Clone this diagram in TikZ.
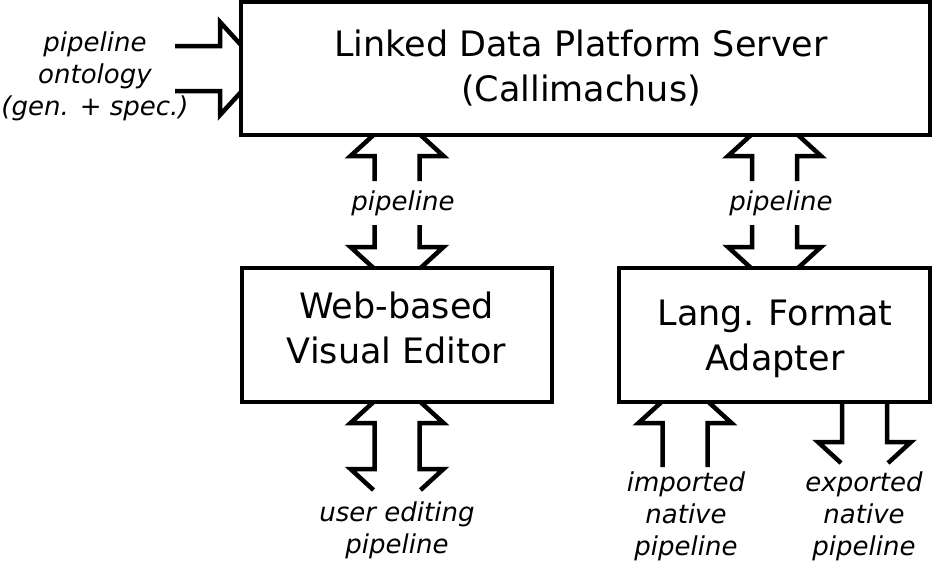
\documentclass[tikz,border=0pt]{standalone}
\usepackage{fontspec}
\usetikzlibrary{calc}
\newfontfamily\boxfont{DejaVu Sans}
\tikzset{
  arr/.style={line width=4.5pt, line join=miter},
  box/.style={draw, line width=4.5pt, outer sep=0pt, inner sep=0pt, fill=white},
  btext/.style={font=\boxfont\fontsize{35pt}{45pt}\selectfont, align=center, inner sep=0pt},
  ltext/.style={font=\boxfont\itshape\fontsize{26pt}{32pt}\selectfont, align=center, inner sep=0pt},
  pics/single/.style={code={
    \draw[arr] (-23.5,0) -- (-46.5,21) -- (-22.5,21) -- (-22.5,#1);
    \draw[arr] (23.5,0) -- (46.5,21) -- (22.5,21) -- (22.5,#1);
  }},
  pics/dbl/.style={code={
    \draw[arr] (-23.5,0) -- (-46.5,21) -- (-22.5,21) -- (-22.5,#1-21) -- (-46.5,#1-21) -- (-23.5,#1);
    \draw[arr] (23.5,0) -- (46.5,21) -- (22.5,21) -- (22.5,#1-21) -- (46.5,#1-21) -- (23.5,#1);
  }}
}
\begin{document}
\begin{tikzpicture}[x=1pt,y=-1pt]
\useasboundingbox (0,0) rectangle (933,563);
% boxes
\node[box, minimum width=689pt, minimum height=133pt] (top) at (585.5,68.5) {};
\node[box, minimum width=310pt, minimum height=134pt] (web) at (397,335) {};
\node[box, minimum width=311pt, minimum height=134pt] (lang) at (774.5,335) {};
% box texts (anchor base = last line)
\node[btext, anchor=base] (toptxt) at (581,101.5) {Linked Data Platform Server\\(Callimachus)};
\node[btext, anchor=base] (webtxt) at (396.5,363) {Web-based\\Visual Editor};
\node[btext, anchor=base] (langtxt) at (775,370) {Lang. Format\\Adapter};
% block arrows
\pic[rotate=-90] (ain) at (top.west) {single=66};
\pic (p1u) at (web.north |- top.south) {single=46};
\pic[yscale=-1] (p1d) at (web.north) {single=43};
\pic (p2u) at (lang.north |- top.south) {single=46};
\pic[yscale=-1] (p2d) at (lang.north) {single=43};
\pic (ue) at (web.south) {dbl=88};
\pic (imp) at ($(lang.south west)+(66,0)$) {single=65};
\pic[yscale=-1] (exp) at ($(lang.south east)+(-65.5,61)$) {single=61};
% labels
\node[ltext, anchor=base] (lont) at (95,115) {pipeline\\ontology\\(gen. + spec.)};
\node[ltext, anchor=base] (lpipe1) at (403,210) {pipeline};
\node[ltext, anchor=base] (lpipe2) at (781,210) {pipeline};
\node[ltext, anchor=base] (luser) at (397,553) {user editing\\pipeline};
\node[ltext, anchor=base] (limp) at (686,555) {imported\\native\\pipeline};
\node[ltext, anchor=base] (lexp) at (864,555) {exported\\native\\pipeline};
\end{tikzpicture}
\end{document}
